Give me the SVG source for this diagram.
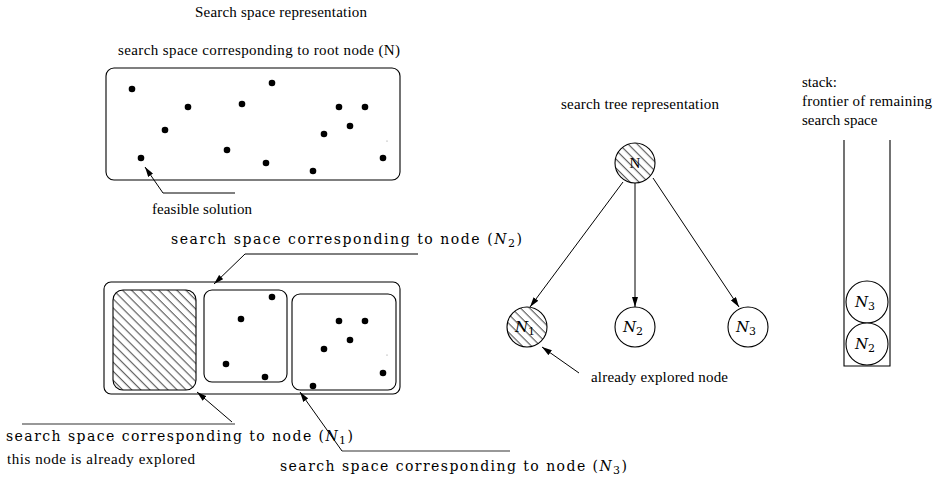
<svg xmlns="http://www.w3.org/2000/svg" width="937" height="480" viewBox="0 0 937 480">
<style>
.t{font-family:"Liberation Serif","Times New Roman",serif;font-size:15px;fill:#000}
.cm{font-family:"DejaVu Serif","Liberation Serif",serif;font-size:14px;fill:#000}
.box{fill:none;stroke:#000;stroke-width:1.1}
.dot{fill:#000}
.ln{fill:none;stroke:#333;stroke-width:1.1}
.arr{fill:none;stroke:#000;stroke-width:1;marker-end:url(#ah)}
.nd{fill:#fff;stroke:#000;stroke-width:1.1}
.hnd{fill:url(#hatch);stroke:#000;stroke-width:1.1}
.nl{font-family:"DejaVu Serif","Liberation Serif",serif;font-size:15px;font-style:italic;text-anchor:middle}
.sub{font-size:11px;font-style:normal}
</style>
<defs>
<pattern id="hatch" patternUnits="userSpaceOnUse" width="6.4" height="10" patternTransform="rotate(-45)">
<rect width="6.4" height="10" fill="#fff"/>
<path d="M3,0 V10" stroke="#222" stroke-width="0.9"/>
</pattern>
<marker id="ah" viewBox="0 0 10 6" refX="10" refY="3" markerWidth="10" markerHeight="6" markerUnits="userSpaceOnUse" orient="auto">
<path d="M0,0 L10,3 L0,6 z" fill="#000"/>
</marker>
</defs>

<g id="title-search-space">
<text class="t" x="195" y="17" textLength="172">Search space representation</text>
</g>

<g id="root-space">
<text class="t" x="118" y="55" textLength="282">search space corresponding to root node (N)</text>
<rect class="box" x="106" y="68" width="294" height="112" rx="8"/>
<circle class="dot" cx="132" cy="89" r="3.3"/>
<circle class="dot" cx="188" cy="107" r="3.3"/>
<circle class="dot" cx="242" cy="104" r="3.3"/>
<circle class="dot" cx="272" cy="83" r="3.3"/>
<circle class="dot" cx="165" cy="130" r="3.3"/>
<circle class="dot" cx="227" cy="150" r="3.3"/>
<circle class="dot" cx="266" cy="163" r="3.3"/>
<circle class="dot" cx="313" cy="171" r="3.3"/>
<circle class="dot" cx="324" cy="134" r="3.3"/>
<circle class="dot" cx="339" cy="107" r="3.3"/>
<circle class="dot" cx="365" cy="107" r="3.3"/>
<circle class="dot" cx="350" cy="126" r="3.3"/>
<circle class="dot" cx="383" cy="158" r="3.3"/>
<circle class="dot" cx="141" cy="158" r="3.3"/>
<circle cx="387" cy="141" r="0.6" fill="#888"/>
</g>

<g id="feasible-label">
<text class="t" x="152" y="214" textLength="100">feasible solution</text>
</g>

<g id="split-space">
<rect class="box" x="104" y="282" width="296" height="112" rx="7"/>
<rect class="box" x="113" y="290" width="83" height="100" rx="10" style="fill:url(#hatch)"/>
<rect class="box" x="204" y="290" width="83" height="92" rx="8"/>
<rect class="box" x="292" y="294" width="104" height="96" rx="8"/>
<circle class="dot" cx="272" cy="297" r="3.3"/>
<circle class="dot" cx="241" cy="319" r="3.3"/>
<circle class="dot" cx="226" cy="364" r="3.3"/>
<circle class="dot" cx="265" cy="377" r="3.3"/>
<circle class="dot" cx="339" cy="321" r="3.3"/>
<circle class="dot" cx="365" cy="321" r="3.3"/>
<circle class="dot" cx="350" cy="340" r="3.3"/>
<circle class="dot" cx="324" cy="349" r="3.3"/>
<circle class="dot" cx="383" cy="373" r="3.3"/>
<circle class="dot" cx="313" cy="386" r="3.3"/>
<circle cx="387" cy="355" r="0.6" fill="#888"/>
</g>

<g id="label-n2">
<text class="cm" x="171" y="244" textLength="351">search space corresponding to node (<tspan font-style="italic">N</tspan><tspan class="sub" dy="3">2</tspan><tspan dy="-3">)</tspan></text>
</g>
<g id="label-n1">
<text class="cm" x="6" y="441" textLength="347">search space corresponding to node (<tspan font-style="italic">N</tspan><tspan class="sub" dy="3">1</tspan><tspan dy="-3">)</tspan></text>
<text class="t" x="7" y="464" textLength="188">this node is already explored</text>
</g>
<g id="label-n3">
<text class="cm" x="280" y="471" textLength="347">search space corresponding to node (<tspan font-style="italic">N</tspan><tspan class="sub" dy="3">3</tspan><tspan dy="-3">)</tspan></text>
</g>

<g id="title-tree">
<text class="t" x="561" y="109" textLength="158">search tree representation</text>
</g>

<g id="node-N">
<circle class="hnd" cx="635" cy="163" r="20"/>
<text x="635" y="168" style="font-family:'Liberation Serif',serif;font-size:15px;text-anchor:middle">N</text>
</g>
<g id="node-N1">
<circle class="hnd" cx="527" cy="327" r="20"/>
<text class="nl" x="525" y="332">N<tspan class="sub" dy="3">1</tspan></text>
</g>
<g id="node-N2">
<circle class="nd" cx="635" cy="327" r="20"/>
<text class="nl" x="633" y="332">N<tspan class="sub" dy="3">2</tspan></text>
</g>
<g id="node-N3">
<circle class="nd" cx="748" cy="327" r="20"/>
<text class="nl" x="746" y="332">N<tspan class="sub" dy="3">3</tspan></text>
</g>

<g id="explored-label">
<text class="t" x="591" y="382" textLength="137">already explored node</text>
</g>

<g id="stack">
<text class="t" x="802" y="87">stack:</text>
<text class="t" x="802" y="106" textLength="130">frontier of remaining</text>
<text class="t" x="802" y="125">search space</text>
<path class="box" d="M844,140 V366 H890 V140"/>
</g>
<g id="stack-N3">
<circle class="nd" cx="867" cy="302" r="21"/>
<text class="nl" x="865" y="307">N<tspan class="sub" dy="3">3</tspan></text>
</g>
<g id="stack-N2">
<circle class="nd" cx="867" cy="344" r="21"/>
<text class="nl" x="865" y="349">N<tspan class="sub" dy="3">2</tspan></text>
</g>

<g id="connectors">
<path class="arr" d="M235,193 L163,193 L145,167"/>
<path class="arr" d="M418,254 L245,254 L214,284"/>
<path class="ln" d="M22,424 L235,424"/>
<path class="arr" d="M232,422 L197,392"/>
<path class="ln" d="M510,451 L342,451"/>
<path class="arr" d="M342,451 L300,392"/>
<path class="arr" d="M623,182 L530,307"/>
<path class="arr" d="M635,183 L635,307"/>
<path class="arr" d="M653,178 L739,307"/>
<path class="arr" d="M579,373 L542,347"/>
</g>
</svg>
